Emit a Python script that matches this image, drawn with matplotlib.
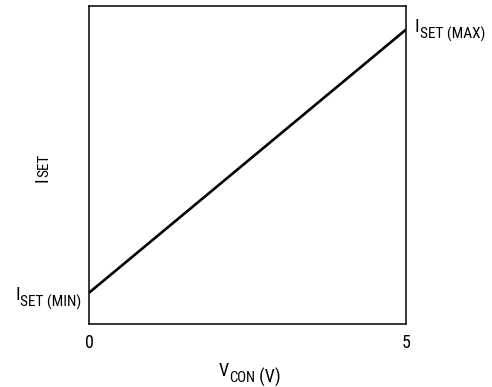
import matplotlib
matplotlib.use("Agg")
import matplotlib.pyplot as plt
from matplotlib import font_manager

# narrow face if one is installed, plain Liberation Sans otherwise
names = {f.name for f in font_manager.fontManager.ttflist}
fam = "Liberation Sans"
for cand in ["Liberation Sans Narrow", "Roboto Condensed", "Open Sans Condensed"]:
    if cand in names:
        fam = cand
        break
plt.rcParams["font.family"] = [fam, "DejaVu Sans"]

v_con = [0, 5]
i_set = [0.098, 0.925]
x_ticks = [0, 5]
x_tick_labels = ["0", "5"]

BIG = 13.5
SMALL = 11


def sub_label(ax, x, y, main, sub, coords, rotation=0):
    t = ax.text(x, y, main, fontsize=BIG, ha="left", va="baseline",
                transform=coords, rotation=rotation, rotation_mode="anchor",
                clip_on=False)
    if rotation == 0:
        ax.annotate(sub, xy=(1, 0), xycoords=t, xytext=(0.3, -1.8),
                    textcoords="offset points", fontsize=SMALL,
                    ha="left", va="baseline", annotation_clip=False)
        return t
    ax.annotate(sub, xy=(1, 1), xycoords=t, xytext=(-1.8, 0.3),
                textcoords="offset points", fontsize=SMALL, rotation=90,
                rotation_mode="anchor", ha="left", va="baseline",
                annotation_clip=False)
    return t


fig = plt.figure(figsize=(4.92, 3.87), dpi=100)
ax = fig.add_axes([0.181, 0.163, 0.644, 0.822])
ax.plot(v_con, i_set, color="black", lw=1.9, solid_capstyle="butt")
ax.set_xlim(0, 5)
ax.set_ylim(0, 1)
ax.set_xticks(x_ticks)
ax.set_xticklabels(x_tick_labels)
ax.set_yticks([])
ax.tick_params(axis="x", length=0, pad=7, labelsize=13)
for s in ax.spines.values():
    s.set_linewidth(1.1)

# end labels
sub_label(ax, -1.167, 0.0755, "I", "SET (MIN)", ax.transData)
sub_label(ax, 5.142, 0.917, "I", "SET (MAX)", ax.transData)

# axis titles
t = ax.text(0.41, -0.1635, "V", fontsize=BIG - 0.5, ha="left", va="baseline",
            transform=ax.transAxes, clip_on=False)
s = ax.annotate("CON", xy=(1, 0), xycoords=t, xytext=(0.2, -1.8),
                textcoords="offset points", fontsize=SMALL - 0.5,
                ha="left", va="baseline", annotation_clip=False)
ax.annotate(" (V)", xy=(1, 0), xycoords=s, xytext=(0, 1.8),
            textcoords="offset points", fontsize=BIG - 0.5,
            ha="left", va="baseline", annotation_clip=False)

sub_label(ax, -0.132, 0.445, "I", "SET", ax.transAxes, rotation=90)

fig.savefig("out.png", dpi=100)
